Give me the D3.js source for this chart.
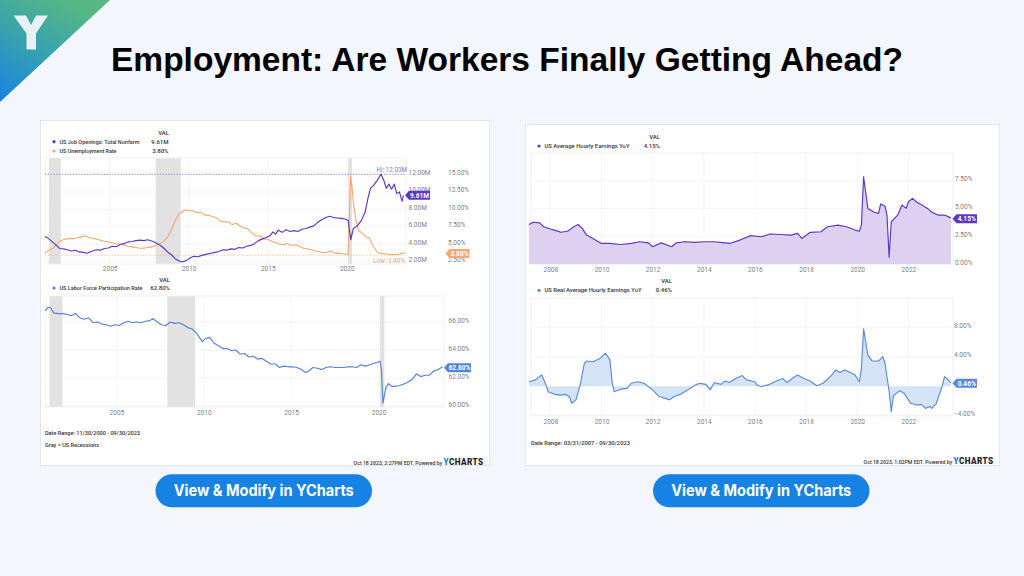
<!DOCTYPE html>
<html><head><meta charset="utf-8">
<script src="https://cdn.jsdelivr.net/npm/d3@7"></script>
<style>html,body{margin:0;padding:0;background:#f3f6fc;}svg{display:block;}</style>
</head><body>
<svg id="c" width="1024" height="576"></svg>
<script>
// ---------------- DATA ----------------
const titleText = "Employment: Are Workers Finally Getting Ahead?";
const buttonText = "View & Modify in YCharts";

const leftRange = ["11/30/2000", "09/30/2023"];
const rightRange = ["03/31/2007", "09/30/2023"];
const recessions = [["2001-03","2001-11"],["2007-12","2009-06"],["2020-02","2020-04"]];
const leftYears = [2005, 2010, 2015, 2020];
const rightYears = [2008, 2010, 2012, 2014, 2016, 2018, 2020, 2022];

const joTicks = [2, 4, 6, 8, 10, 12];
const unTicks = [2.5, 5, 7.5, 10, 12.5, 15];
const lfTicks = [60, 62, 64, 66];
const aheTicks = [0, 2.5, 5, 7.5];
const realTicks = [-4, 4, 8];

const jobOpenings = [
["2000-12",4.9],["2001-03",4.6],["2001-06",4.2],["2001-09",3.8],["2001-11",3.5],["2002-02",3.45],["2002-05",3.35],
["2002-08",3.2],["2002-11",3.3],["2003-02",3.1],["2003-05",3.05],["2003-08",2.95],["2003-11",3.15],["2004-03",3.35],
["2004-06",3.3],["2004-09",3.5],["2004-12",3.55],["2005-03",3.75],["2005-06",3.7],["2005-09",3.95],["2005-12",4.05],
["2006-03",4.25],["2006-06",4.3],["2006-09",4.4],["2006-12",4.45],["2007-03",4.4],["2007-06",4.5],["2007-09",4.35],
["2007-12",4.15],["2008-03",3.9],["2008-06",3.55],["2008-09",3.1],["2008-12",2.75],["2009-03",2.3],["2009-06",2.05],
["2009-08",1.95],["2009-11",2.1],["2010-02",2.4],["2010-05",2.6],["2010-08",2.55],["2010-11",2.7],["2011-03",2.85],
["2011-06",2.95],["2011-09",3.05],["2011-12",3.15],["2012-03",3.35],["2012-06",3.3],["2012-09",3.45],["2012-12",3.4],
["2013-03",3.6],["2013-06",3.55],["2013-09",3.75],["2013-12",3.85],["2014-03",4.05],["2014-06",4.4],["2014-09",4.6],
["2014-12",4.75],["2015-03",5.0],["2015-05",5.4],["2015-07",5.15],["2015-09",5.6],["2015-12",5.35],["2016-03",5.65],
["2016-06",5.45],["2016-09",5.55],["2016-12",5.45],["2017-03",5.7],["2017-06",5.8],["2017-09",5.95],["2017-12",6.1],
["2018-03",6.5],["2018-06",6.8],["2018-09",7.05],["2018-12",7.2],["2019-03",7.05],["2019-06",7.0],["2019-09",6.95],
["2019-12",6.85],["2020-02",6.75],["2020-04",4.5],["2020-06",5.8],["2020-09",6.1],["2020-12",6.7],["2021-03",7.7],
["2021-05",9.2],["2021-07",10.4],["2021-09",10.7],["2021-12",11.3],["2022-03",12.03],["2022-05",11.4],["2022-07",10.4],
["2022-09",10.9],["2022-11",10.3],["2023-01",10.9],["2023-03",9.8],["2023-05",10.0],["2023-07",8.9],["2023-08",9.61]
];
const unemployment = [
["2000-12",3.7],["2001-03",4.1],["2001-06",4.4],["2001-09",5.0],["2001-12",5.5],["2002-03",5.7],["2002-06",5.8],
["2002-09",5.75],["2002-12",5.9],["2003-03",6.0],["2003-06",6.2],["2003-09",6.0],["2003-12",5.8],["2004-03",5.75],
["2004-06",5.55],["2004-09",5.4],["2004-12",5.35],["2005-03",5.2],["2005-06",5.05],["2005-09",5.0],["2005-12",4.85],
["2006-03",4.7],["2006-06",4.6],["2006-09",4.5],["2006-12",4.4],["2007-03",4.4],["2007-06",4.5],["2007-09",4.6],
["2007-12",4.8],["2008-03",5.0],["2008-06",5.4],["2008-09",6.0],["2008-12",7.1],["2009-03",8.5],["2009-06",9.4],
["2009-10",9.9],["2010-01",9.8],["2010-04",9.8],["2010-07",9.5],["2010-10",9.6],["2011-01",9.2],["2011-04",9.1],
["2011-07",9.0],["2011-10",8.8],["2012-01",8.3],["2012-04",8.2],["2012-07",8.2],["2012-10",7.8],["2013-01",8.0],
["2013-04",7.6],["2013-07",7.3],["2013-10",7.2],["2014-01",6.6],["2014-04",6.2],["2014-07",6.2],["2014-10",5.7],
["2015-01",5.7],["2015-04",5.4],["2015-07",5.2],["2015-10",5.0],["2016-01",4.9],["2016-04",5.1],["2016-07",4.8],
["2016-10",4.9],["2017-01",4.7],["2017-04",4.4],["2017-07",4.3],["2017-10",4.2],["2018-01",4.0],["2018-04",3.9],
["2018-07",3.8],["2018-10",3.8],["2019-01",4.0],["2019-04",3.7],["2019-07",3.7],["2019-10",3.6],["2020-02",3.5],
["2020-04",14.7],["2020-05",13.2],["2020-06",11.0],["2020-08",8.4],["2020-10",6.9],["2020-12",6.7],["2021-03",6.1],
["2021-06",5.9],["2021-09",4.7],["2021-12",3.9],["2022-03",3.6],["2022-06",3.6],["2022-09",3.5],["2022-12",3.5],
["2023-03",3.5],["2023-06",3.6],["2023-09",3.8]
];
const laborForce = [
["2000-12",66.8],["2001-02",67.05],["2001-04",67.0],["2001-06",66.65],["2001-09",66.6],["2001-12",66.6],["2002-03",66.55],
["2002-06",66.45],["2002-09",66.6],["2002-12",66.3],["2003-03",66.2],["2003-06",66.3],["2003-09",65.95],["2003-12",66.0],
["2004-03",65.85],["2004-06",65.8],["2004-09",65.7],["2004-12",65.8],["2005-03",65.75],["2005-06",65.95],["2005-09",66.05],
["2005-12",65.95],["2006-03",66.0],["2006-06",65.95],["2006-09",66.05],["2006-12",66.1],["2007-02",66.25],["2007-05",66.0],
["2007-08",65.8],["2007-11",65.75],["2008-02",66.0],["2008-05",65.9],["2008-08",65.95],["2008-11",65.8],["2009-02",65.6],
["2009-05",65.5],["2009-08",65.2],["2009-10",64.9],["2009-12",64.6],["2010-02",64.8],["2010-05",64.9],["2010-08",64.5],
["2010-11",64.3],["2011-02",64.1],["2011-05",64.1],["2011-08",63.95],["2011-11",64.0],["2012-02",63.7],["2012-05",63.75],
["2012-08",63.5],["2012-11",63.55],["2013-02",63.35],["2013-05",63.4],["2013-08",63.2],["2013-11",63.0],["2014-02",63.0],
["2014-05",62.75],["2014-08",62.85],["2014-11",62.8],["2015-02",62.8],["2015-05",62.75],["2015-08",62.6],["2015-11",62.4],
["2016-01",62.5],["2016-04",62.75],["2016-07",62.7],["2016-10",62.6],["2017-01",62.75],["2017-04",62.8],["2017-07",62.75],
["2017-10",62.75],["2018-01",62.75],["2018-04",62.8],["2018-07",62.8],["2018-10",62.75],["2019-01",62.95],["2019-04",62.85],
["2019-07",62.95],["2019-10",63.05],["2019-12",63.1],["2020-02",63.2],["2020-03",62.6],["2020-04",60.2],["2020-06",61.3],
["2020-08",61.6],["2020-10",61.4],["2020-12",61.4],["2021-03",61.45],["2021-06",61.55],["2021-09",61.7],["2021-12",61.9],
["2022-03",62.3],["2022-06",62.1],["2022-09",62.2],["2022-12",62.2],["2023-03",62.5],["2023-06",62.6],["2023-09",62.8]
];
const avgHourly = [
["2007-03",3.55],["2007-05",3.75],["2007-08",3.7],["2007-10",3.35],["2008-01",3.15],["2008-03",3.05],["2008-06",2.85],
["2008-09",2.95],["2008-12",3.35],["2009-02",3.55],["2009-04",3.2],["2009-06",2.6],["2009-09",2.3],["2010-01",1.85],
["2010-05",1.85],["2010-10",1.75],["2011-03",1.85],["2011-07",2.0],["2011-11",1.9],["2012-01",1.55],["2012-05",1.9],
["2012-10",1.55],["2012-12",1.9],["2013-04",2.0],["2013-09",1.95],["2014-01",2.0],["2014-06",2.0],["2014-11",1.9],
["2015-01",1.85],["2015-06",2.15],["2015-11",2.55],["2016-04",2.45],["2016-08",2.7],["2017-01",2.65],["2017-06",2.6],
["2017-09",2.75],["2017-11",2.3],["2018-03",2.85],["2018-08",2.9],["2018-11",3.35],["2019-04",3.5],["2019-08",3.35],
["2019-12",3.05],["2020-02",2.95],["2020-03",3.5],["2020-04",7.85],["2020-06",5.0],["2020-09",4.65],["2020-11",4.55],
["2020-12",5.4],["2021-02",5.2],["2021-03",4.4],["2021-04",0.6],["2021-05",3.8],["2021-08",4.4],["2021-10",5.3],
["2021-12",5.0],["2022-01",5.6],["2022-03",5.9],["2022-05",5.55],["2022-07",5.35],["2022-10",5.0],["2022-12",4.65],
["2023-03",4.4],["2023-06",4.4],["2023-09",4.15]
];
const realHourly = [
["2007-03",0.6],["2007-06",0.85],["2007-08",1.3],["2007-09",1.5],["2007-11",0.15],["2007-12",-0.75],["2008-03",-1.1],
["2008-06",-1.2],["2008-08",-1.1],["2008-10",-1.45],["2008-11",-2.3],["2009-01",-1.85],["2009-03",0.1],["2009-05",3.1],
["2009-06",3.4],["2009-09",3.3],["2009-12",3.7],["2010-03",4.45],["2010-05",3.55],["2010-06",0.6],["2010-07",-0.75],
["2010-10",-0.4],["2011-01",-0.3],["2011-03",0.4],["2011-06",0.6],["2011-09",0.4],["2012-01",-0.5],["2012-04",-1.4],
["2012-07",-1.65],["2012-09",-1.85],["2012-11",-1.4],["2013-02",-1.1],["2013-06",-0.4],["2013-09",0.15],["2013-11",0.4],
["2014-02",0.25],["2014-04",-0.5],["2014-06",0.5],["2014-09",0.25],["2014-11",0.7],["2015-01",0.5],["2015-04",1.05],
["2015-07",1.45],["2015-09",0.85],["2016-01",0.6],["2016-02",0.15],["2016-04",-0.05],["2016-08",0.25],["2016-11",0.7],
["2017-02",1.05],["2017-04",0.5],["2017-07",1.15],["2017-09",1.5],["2017-12",1.05],["2018-03",0.7],["2018-06",0.05],
["2018-09",0.4],["2019-01",1.5],["2019-03",2.2],["2019-05",1.85],["2019-07",2.2],["2019-09",1.95],["2019-12",1.5],
["2020-02",0.6],["2020-03",2.4],["2020-04",7.75],["2020-06",4.2],["2020-08",3.4],["2020-11",3.4],["2021-01",4.0],
["2021-02",3.1],["2021-04",-0.75],["2021-05",-3.45],["2021-06",-1.3],["2021-09",-0.6],["2021-11",-0.95],["2022-01",-1.85],
["2022-02",-2.3],["2022-05",-2.55],["2022-07",-2.45],["2022-09",-3.0],["2022-11",-2.75],["2022-12",-3.0],["2023-02",-2.4],
["2023-03",-1.6],["2023-04",-0.8],["2023-05",0.1],["2023-06",1.3],["2023-08",0.8],["2023-09",0.46]
];

// ---------------- SETUP ----------------
const svg = d3.select("#c");
const defs = svg.append("defs");
const F = "Roboto, 'Noto Sans', sans-serif";
const parseM = d3.timeParse("%Y-%m");
const parseD = d3.timeParse("%m/%d/%Y");
const pts = arr => arr.map(d => ({date: parseM(d[0]), value: d[1]}));
const yearDate = y => new Date(y, 0, 1);

const C = {
  purple: "#5b35c5", orange: "#f5a46b", blue: "#5283d8", blue2: "#5a8ad8",
  purpleFill: "#ddd0f1", blueFill: "#d5e3f6", rec: "#e2e2e2",
  grid: "#f1f1f1", tick: "#808080", text: "#333"
};

svg.append("rect").attr("width", 1024).attr("height", 576).attr("fill", "#f3f6fc");

// logo triangle
const g1 = defs.append("linearGradient").attr("id", "lg").attr("x1", "0.6").attr("y1", "0").attr("x2", "0").attr("y2", "1");
g1.append("stop").attr("offset", "0").attr("stop-color", "#56b785");
g1.append("stop").attr("offset", "0.5").attr("stop-color", "#35a0b2");
g1.append("stop").attr("offset", "1").attr("stop-color", "#1a82e4");
svg.append("path").attr("d", "M0,0 L110,0 L0,102 Z").attr("fill", "url(#lg)");
svg.append("path").attr("d", "M13.5,15.5 L26,15.5 L31,25 L36,15.5 L48,15.5 L36,33.5 L36,49.5 L26.5,49.5 L26.5,33.5 Z").attr("fill", "#e9f1f6");

// title
svg.append("text").attr("x", 507).attr("y", 71).attr("text-anchor", "middle")
  .attr("font-family", "'Liberation Sans', Arial, sans-serif").attr("font-weight", 700)
  .attr("font-size", 33).attr("fill", "#000").attr("textLength", 792).attr("lengthAdjust", "spacingAndGlyphs")
  .text(titleText);

// cards
svg.append("rect").attr("x", 40.5).attr("y", 120.5).attr("width", 449).attr("height", 345).attr("fill", "#fff").attr("stroke", "#e2e7ee");
svg.append("rect").attr("x", 525.5).attr("y", 124.5).attr("width", 474).attr("height", 341).attr("fill", "#fff").attr("stroke", "#e2e7ee");

// ---------------- HELPERS ----------------
function txt(x, y, s, o = {}) {
  const t = svg.append("text").attr("x", x).attr("y", y).attr("dy", "0.35em")
    .attr("font-family", F).attr("font-size", o.size || 6.5).attr("fill", o.fill || C.text)
    .attr("font-weight", o.weight || 400).attr("text-anchor", o.anchor || "start").text(s);
  if (o.len) t.attr("textLength", o.len).attr("lengthAdjust", "spacingAndGlyphs");
  return t;
}
function hGrid(scale, ticks, box) {
  svg.append("g").selectAll("line").data(ticks).join("line")
    .attr("x1", box.x0).attr("x2", box.x1).attr("y1", d => scale(d)).attr("y2", d => scale(d))
    .attr("stroke", C.grid).attr("stroke-width", 0.8);
}
function vGrid(xs, years, box) {
  svg.append("g").selectAll("line").data(years).join("line")
    .attr("x1", d => xs(yearDate(d))).attr("x2", d => xs(yearDate(d))).attr("y1", box.y0).attr("y2", box.y1)
    .attr("stroke", "#f4f4f4").attr("stroke-width", 0.8);
}
function frame(box) {
  svg.append("rect").attr("x", box.x0).attr("y", box.y0).attr("width", box.x1 - box.x0).attr("height", box.y1 - box.y0)
    .attr("fill", "none").attr("stroke", "#eeeeee").attr("stroke-width", 0.8);
}
function shade(xs, box) {
  svg.append("g").selectAll("rect").data(recessions).join("rect")
    .attr("x", d => xs(parseM(d[0]))).attr("width", d => xs(d3.timeMonth.offset(parseM(d[1]), 1)) - xs(parseM(d[0])))
    .attr("y", box.y0).attr("height", box.y1 - box.y0).attr("fill", C.rec);
}
function yAxis(scale, ticks, fmt, x) {
  const g = svg.append("g").attr("transform", `translate(${x},-2)`)
    .call(d3.axisRight(scale).tickValues(ticks).tickFormat(fmt).tickSize(0).tickPadding(0));
  g.select(".domain").remove();
  g.selectAll("text").attr("font-family", F).attr("font-size", 6.5).attr("fill", C.tick);
}
function xAxis(xs, years, y) {
  const g = svg.append("g").attr("transform", `translate(0,${y})`)
    .call(d3.axisBottom(xs).tickValues(years.map(yearDate)).tickFormat(d3.timeFormat("%Y")).tickSize(0).tickPadding(2));
  g.select(".domain").remove();
  g.selectAll("text").attr("font-family", F).attr("font-size", 6.5).attr("fill", C.tick);
}
function tag(x, y, w, s, color) {
  const h = 9, a = 4;
  svg.append("path").attr("d", `M${x},${y} L${x + a},${y - h / 2} L${x + w},${y - h / 2} L${x + w},${y + h / 2} L${x + a},${y + h / 2} Z`).attr("fill", color);
  txt(x + a + (w - a) / 2, y, s, {anchor: "middle", fill: "#fff", weight: 700, size: 6.6});
}
function legendRow(dotX, y, color, label, labelLen, value, valRight) {
  svg.append("circle").attr("cx", dotX).attr("cy", y).attr("r", 1.6).attr("fill", color);
  txt(dotX + 5.5, y, label, {size: 6, weight: 500, len: labelLen});
  txt(valRight, y, value, {size: 6, weight: 500, anchor: "end"});
}
function line(xs, ys, data, color, w = 1.15) {
  svg.append("path").datum(data).attr("fill", "none").attr("stroke", color).attr("stroke-width", w)
    .attr("stroke-linejoin", "round").attr("d", d3.line().x(d => xs(d.date)).y(d => ys(d.value)));
}
function powered(xEnd, y, stamp) {
  const t = svg.append("text").attr("x", xEnd).attr("y", y).attr("dy", "0.35em").attr("text-anchor", "end")
    .attr("font-family", F);
  t.append("tspan").attr("font-size", 5.2).attr("font-weight", 500).attr("fill", C.text).text(stamp + " ");
  t.append("tspan").attr("font-size", 8.2).attr("font-weight", 900).attr("fill", "#1a7fe0").attr("letter-spacing", 0.4).text("Y");
  t.append("tspan").attr("font-size", 8.2).attr("font-weight", 900).attr("fill", "#222").attr("letter-spacing", 0.4).text("CHARTS");
}
const fmtM = d => d3.format(".2f")(d) + "M";
const fmtP = d => d3.format(".2f")(d) + "%";

// ---------------- LEFT TOP ----------------
const bLT = {x0: 45, x1: 406, y0: 158, y1: 264};
const xLT = d3.scaleTime().domain(leftRange.map(parseD)).range([bLT.x0, bLT.x1]);
const yJ = d3.scaleLinear().domain([2, 12]).range([261.5, 174.5]);
const yU = d3.scaleLinear().domain([2.5, 15]).range([261.5, 174.5]);
hGrid(yJ, joTicks, bLT); vGrid(xLT, leftYears, bLT); shade(xLT, bLT); frame(bLT);
const jo = pts(jobOpenings), un = pts(unemployment);
const joHi = d3.max(jo, d => d.value);
svg.append("line").attr("x1", bLT.x0).attr("x2", bLT.x1).attr("y1", yJ(joHi)).attr("y2", yJ(joHi))
  .attr("stroke", "#8b6fd8").attr("stroke-width", 0.9).attr("stroke-dasharray", "1.2,1.6");
svg.append("line").attr("x1", bLT.x0).attr("x2", bLT.x1).attr("y1", yU(3.4)).attr("y2", yU(3.4))
  .attr("stroke", "#f7b98a").attr("stroke-width", 0.9).attr("stroke-dasharray", "1.2,1.6");
line(xLT, yU, un, C.orange, 1.05);
line(xLT, yJ, jo, C.purple, 1.15);
txt(bLT.x1 + 1, yJ(joHi) - 4, "Hi: " + fmtM(12.03), {anchor: "end", fill: "#8b6fd8", size: 6.3});
txt(bLT.x1 - 1, yU(3.4) + 5.5, "Low: 3.40%", {anchor: "end", fill: "#f5a46b", size: 6.3});
yAxis(yJ, joTicks, fmtM, 408.5);
yAxis(yU, unTicks, fmtP, 448);
xAxis(xLT, leftYears, bLT.y1);
tag(405, yJ(9.61), 25, "9.61M", C.purple);
tag(445.5, yU(3.8) + 1, 24, "3.80%", "#f7a870");
txt(169, 132.5, "VAL", {size: 6, weight: 500, anchor: "end"});
legendRow(54, 141.7, C.purple, "US Job Openings: Total Nonfarm", 80, "9.61M", 168.5);
legendRow(54, 151, C.orange, "US Unemployment Rate", 57, "3.80%", 168.5);

// ---------------- LEFT BOTTOM ----------------
const bLB = {x0: 45, x1: 444, y0: 296, y1: 407};
const xLB = d3.scaleTime().domain(leftRange.map(parseD)).range([bLB.x0, bLB.x1]);
const yL = d3.scaleLinear().domain([60, 66]).range([406, 322]);
hGrid(yL, lfTicks, bLB); vGrid(xLB, leftYears, bLB); shade(xLB, bLB); frame(bLB);
line(xLB, yL, pts(laborForce), C.blue, 1.15);
yAxis(yL, lfTicks, fmtP, 448.5);
xAxis(xLB, leftYears, bLB.y1 + 1);
tag(444, yL(62.8) + 1, 27, "62.80%", C.blue);
txt(170, 279.5, "VAL", {size: 6, weight: 500, anchor: "end"});
legendRow(54, 288, C.blue, "US Labor Force Participation Rate", 83, "62.80%", 170);
txt(45, 433.3, "Date Range: " + leftRange[0] + " - " + leftRange[1], {size: 6.2, weight: 500, len: 95});
txt(45, 444.7, "Gray = US Recessions", {size: 6.2, weight: 500, len: 54});
powered(483.5, 459.5, "Oct 18 2023, 2:27PM EDT. Powered by");

// ---------------- RIGHT TOP ----------------
const bRT = {x0: 531, x1: 953, y0: 153, y1: 264};
const xR = d3.scaleTime().domain(rightRange.map(parseD)).range([bRT.x0, bRT.x1]);
const yA = d3.scaleLinear().domain([0, 7.5]).range([264, 180.6]);
hGrid(yA, aheTicks, bRT); vGrid(xR, rightYears, bRT); frame(bRT);
const ahe = pts(avgHourly);
svg.append("path").datum(ahe).attr("fill", C.purpleFill)
  .attr("d", d3.area().x(d => xR(d.date)).y0(bRT.y1).y1(d => yA(d.value)));
line(xR, yA, ahe, C.purple, 1.15);
yAxis(yA, aheTicks, fmtP, 955);
xAxis(xR, rightYears, bRT.y1 + 1.5);
tag(952.5, yA(4.15) + 1, 24.5, "4.15%", C.purple);
txt(660, 136.7, "VAL", {size: 6, weight: 500, anchor: "end"});
legendRow(539, 146, C.purple, "US Average Hourly Earnings YoY", 85, "4.15%", 660);

// ---------------- RIGHT BOTTOM ----------------
const bRB = {x0: 531, x1: 953, y0: 298, y1: 415};
const yRl = d3.scaleLinear().domain([0, 8]).range([386.2, 327]);
hGrid(yRl, realTicks, bRB); vGrid(xR, rightYears, bRB); frame(bRB);
const rh = pts(realHourly);
svg.append("path").datum(rh).attr("fill", C.blueFill)
  .attr("d", d3.area().x(d => xR(d.date)).y0(yRl(0)).y1(d => yRl(d.value)));
line(xR, yRl, rh, C.blue2, 1.15);
yAxis(yRl, realTicks, fmtP, 954);
xAxis(xR, rightYears, bRB.y1 + 2.5);
tag(952.5, yRl(0.46) + 0.5, 24.5, "0.46%", C.blue2);
txt(672, 281, "VAL", {size: 6, weight: 500, anchor: "end"});
legendRow(539, 290.3, C.blue2, "US Real Average Hourly Earnings YoY", 97, "0.46%", 672);
txt(531, 443.3, "Date Range: " + rightRange[0] + " - " + rightRange[1], {size: 6.2, weight: 500, len: 99});
powered(993.5, 458.5, "Oct 18 2023, 1:02PM EDT. Powered by");

// ---------------- BUTTONS ----------------
function button(x, y, w, h) {
  svg.append("rect").attr("x", x).attr("y", y).attr("width", w).attr("height", h).attr("rx", h / 2).attr("fill", "#1683e4");
  svg.append("text").attr("x", x + w / 2).attr("y", y + h / 2).attr("dy", "0.36em").attr("text-anchor", "middle")
    .attr("font-family", "Inter, 'Open Sans', sans-serif").attr("font-weight", 700).attr("font-size", 15.5)
    .attr("fill", "#fff").attr("textLength", 180).attr("lengthAdjust", "spacingAndGlyphs").text(buttonText);
}
button(155.5, 474.3, 216.5, 33);
button(653, 474.3, 216.5, 33);
</script>
</body></html>
